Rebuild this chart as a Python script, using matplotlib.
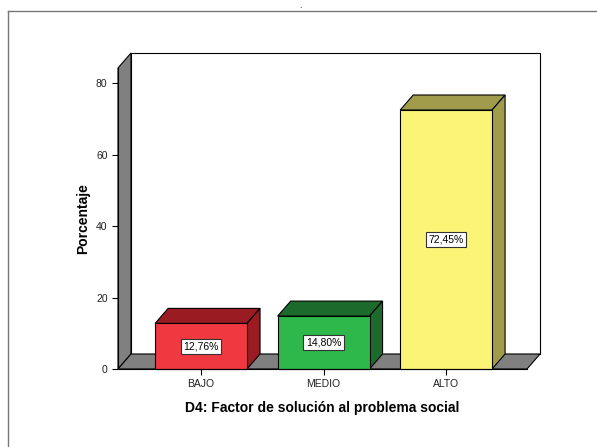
import matplotlib.pyplot as plt
from matplotlib.patches import Polygon, Rectangle
from matplotlib.lines import Line2D

plt.rcParams['font.family'] = ['Liberation Sans', 'DejaVu Sans']

categories = ["BAJO", "MEDIO", "ALTO"]
percentages = [12.76, 14.80, 72.45]
value_labels = ["12,76%", "14,80%", "72,45%"]
front_colors = ["#f03840", "#2eb84a", "#faf576"]
shade_colors = ["#9a1c22", "#1d6b2c", "#a09c4c"]

fig = plt.figure(figsize=(5.97, 4.47), dpi=100)
ax = fig.add_axes([118 / 597, 78 / 447, 409 / 597, 301 / 447])

xmin, xmax = -0.678, 2.66
ymin, ymax = 0, 84.2
ax.set_xlim(xmin, xmax)
ax.set_ylim(ymin, ymax)

# depth offset in data units (about 13 px right, 15 px up)
dx = 13 / 122.5
dy = 15 / 3.575
wall_gray = "#808080"

# side wall, floor and back wall
ax.add_patch(Polygon([(xmin, 0), (xmin + dx, dy), (xmin + dx, ymax + dy), (xmin, ymax)],
                     facecolor=wall_gray, edgecolor="black", lw=0.8, clip_on=False, zorder=1))
ax.add_patch(Rectangle((xmin + dx, dy), xmax - xmin, ymax, facecolor="white",
                       edgecolor="black", lw=0.8, clip_on=False, zorder=1))
ax.add_patch(Polygon([(xmin, 0), (xmax, 0), (xmax + dx, dy), (xmin + dx, dy)],
                     facecolor=wall_gray, edgecolor="black", lw=0.8, clip_on=False, zorder=2))

w = 0.75
for i, v in enumerate(percentages):
    x0, x1 = i - w / 2, i + w / 2
    ax.add_patch(Polygon([(x0, v), (x1, v), (x1 + dx, v + dy), (x0 + dx, v + dy)],
                         facecolor=shade_colors[i], edgecolor="black", lw=0.8, clip_on=False, zorder=3))
    ax.add_patch(Polygon([(x1, 0), (x1 + dx, dy), (x1 + dx, v + dy), (x1, v)],
                         facecolor=shade_colors[i], edgecolor="black", lw=0.8, clip_on=False, zorder=3))
    ax.add_patch(Rectangle((x0, 0), w, v, facecolor=front_colors[i], edgecolor="black",
                           lw=0.8, clip_on=False, zorder=4))
    ax.text(i, v / 2, value_labels[i], ha="center", va="center", fontsize=7.5, zorder=5,
            bbox=dict(boxstyle="square,pad=0.25", facecolor="white", edgecolor="#333333", lw=0.8))

for s in ["top", "right"]:
    ax.spines[s].set_visible(False)
ax.spines["left"].set_zorder(6)
ax.spines["bottom"].set_zorder(6)
ax.set_yticks([0, 20, 40, 60, 80])
ax.set_xticks(range(len(categories)))
ax.set_xticklabels(categories)
ax.tick_params(labelsize=7.5, length=4, width=0.8, colors="black", labelcolor="#222222")
ax.set_ylabel("Porcentaje", fontsize=10, fontweight="bold", labelpad=4)
ax.set_xlabel("D4: Factor de solución al problema social", fontsize=10, fontweight="bold", labelpad=8)
ax.patch.set_visible(False)

# outer chart frame
fig.add_artist(Line2D([8 / 597, 8 / 597], [0, 1 - 11 / 447], transform=fig.transFigure, color="#777777", lw=1))
fig.add_artist(Line2D([8 / 597, 1], [1 - 11 / 447, 1 - 11 / 447], transform=fig.transFigure, color="#777777", lw=1))
fig.text(300 / 597, 1 - 7 / 447, ".", fontsize=6, ha="center", va="center")

fig.savefig("out.png", dpi=100)
